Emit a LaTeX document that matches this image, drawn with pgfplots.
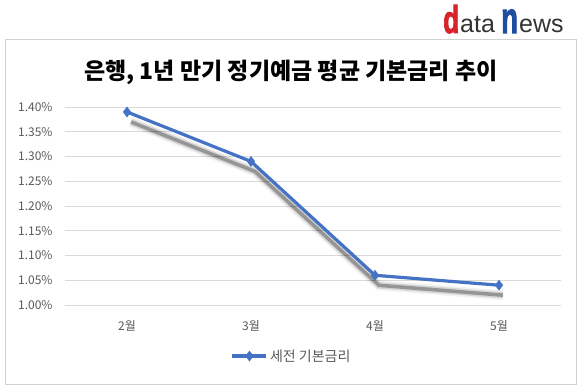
\documentclass[border=0pt]{standalone}
\usepackage{fontspec}
\setmainfont{Noto Sans CJK KR}
\newfontfamily\logofont{Liberation Sans}
\newfontfamily\logobold[FakeBold=2.5]{Liberation Sans Bold}
\usepackage{pgfplots}
\pgfplotsset{compat=1.18}
\definecolor{ser}{HTML}{4472C4}
\definecolor{tickc}{HTML}{595959}
\definecolor{logored}{HTML}{D8232A}
\definecolor{logoblue}{HTML}{1F4E9E}
\definecolor{logogray}{HTML}{333333}
\begin{document}
\begin{tikzpicture}[x=1pt,y=1pt]
\begin{axis}[
  name=ax,
  scale only axis,
  width=496pt, height=198pt,
  xmin=-0.5, xmax=3.5, ymin=1.0, ymax=1.4,
  xtick={0,1,2,3}, xticklabels={2월,3월,4월,5월},
  ytick={1.00,1.05,1.10,1.15,1.20,1.25,1.30,1.35,1.40},
  yticklabel={\pgfmathprintnumber[fixed,fixed zerofill,precision=2]{\tick}\%},
  /pgf/number format/assume math mode=true,
  axis line style={draw=none},
  ymajorgrids, grid style={color=black!15, line width=0.8pt},
  major tick length=0pt,
  tick label style={font=\fontsize{12}{12}\selectfont, text=tickc},
  xtick style={draw=none}, ytick style={draw=none},
  xticklabel style={yshift=-12pt},
  yticklabel style={xshift=-9pt},
  legend style={at={(0.457,-0.258)}, anchor=center, draw=none, fill=none,
    font=\fontsize{14}{14}\selectfont, text=tickc, inner sep=0pt},
  legend image code/.code={\draw[mark repeat=2,mark phase=2,#1] plot coordinates {(0pt,0pt) (17pt,0pt) (34pt,0pt)};},
  clip=false,
]
\addplot[black, opacity=0.05, line width=10pt, forget plot, xshift=4pt, yshift=-10pt] coordinates {(0,1.39) (1,1.29) (2,1.06) (3,1.04)};
\addplot[black, opacity=0.12, line width=6.5pt, forget plot, xshift=4pt, yshift=-10pt] coordinates {(0,1.39) (1,1.29) (2,1.06) (3,1.04)};
\addplot[black, opacity=0.3, line width=3.5pt, forget plot, xshift=4pt, yshift=-10pt] coordinates {(0,1.39) (1,1.29) (2,1.06) (3,1.04)};
\addplot[color=ser, line width=3.2pt, mark=diamond*, mark size=5pt, mark options={solid, line width=0.5pt}] coordinates {(0,1.39) (1,1.29) (2,1.06) (3,1.04)};
\addlegendentry{세전 기본금리}
\end{axis}
\begin{scope}[shift={(ax.south west)}, xshift=-65pt, yshift=-83pt]
\path[use as bounding box] (0,0) rectangle (580,388);
\draw[color=black!18, line width=1pt] (6,4) rectangle (576,348);
% logo
\node[anchor=base west, inner sep=0, text=logored] at (443,355) {\scalebox{1.05}[1.55]{\logobold\fontsize{25}{25}\selectfont d}};
\node[anchor=base west, inner sep=0, text=logogray] at (460,355) {\logofont\fontsize{25}{25}\selectfont ata};
\node[anchor=base west, inner sep=0, text=logoblue] at (501,355) {\scalebox{1.1}[1.75]{\logobold\fontsize{25}{25}\selectfont n}};
\node[anchor=base west, inner sep=0, text=logogray] at (519,355) {\logofont\fontsize{25}{25}\selectfont ews};
% title
\node[anchor=center, inner sep=0, font=\fontsize{23}{23}\selectfont\bfseries] at (291,316) {은행, 1년 만기 정기예금 평균 기본금리 추이};
\end{scope}
\end{tikzpicture}
\end{document}
